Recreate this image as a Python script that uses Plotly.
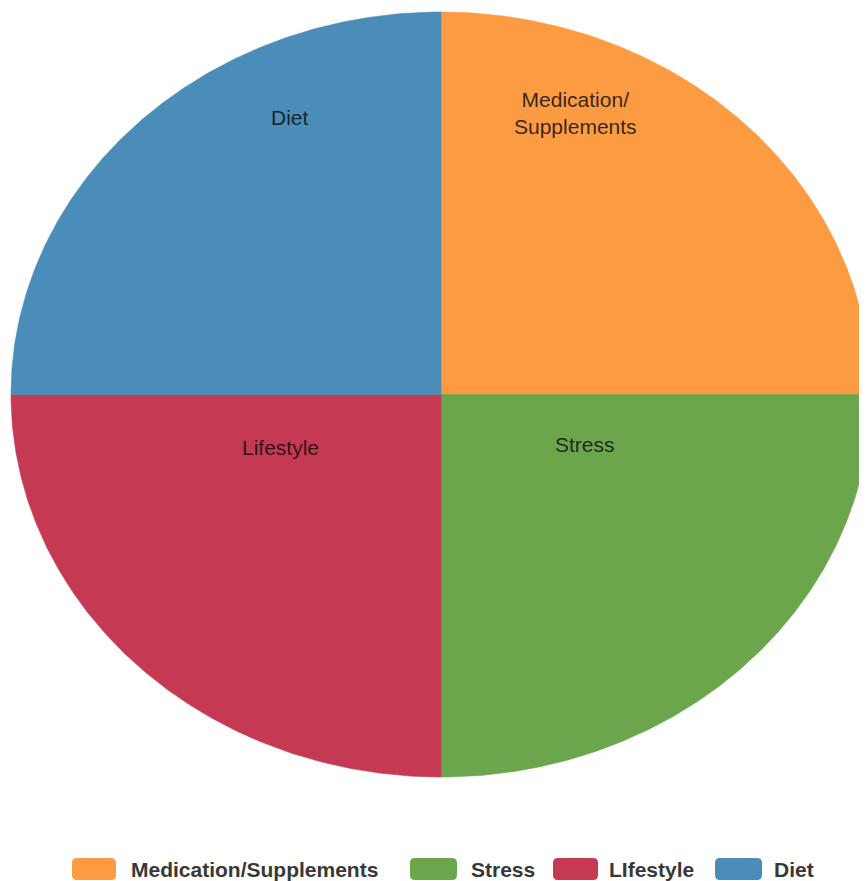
import numpy as np
import plotly.graph_objects as go

# ---- data ----
categories = ["Medication/Supplements", "Stress", "Lifestyle", "Diet"]
values = [25, 25, 25, 25]
slice_text = ["Medication/<br>Supplements", "Stress", "Lifestyle", "Diet"]
legend_names = ["Medication/Supplements", "Stress", "LIfestyle", "Diet"]

# ---- style ----
colors = ["#FD9B42", "#6BA64C", "#C53952", "#4A8DB8"]
OFF = 8  # page body margin
W, H = 867 - OFF, 881 - OFF
cx_px, cy_px = 441 - OFF, 394.5 - OFF
rx_px, ry_px = 430, 382.5
# label centres (page px)
label_px = [(575, 113), (585, 444), (280, 447), (289.5, 117)]
# legend box x-extents and text start (page px)
legend_box_px = [(72, 116), (410, 457), (553, 598), (715, 762)]
legend_text_px = [129, 469, 607, 772]
legend_y_px = (858, 880)


def dx(px):
    return (px - OFF - cx_px) / rx_px


def dy(py):
    return (cy_px - (py - OFF)) / ry_px


fig = go.Figure()
total = float(sum(values))
start = np.pi / 2  # 12 o'clock, clockwise
for name, v, c in zip(categories, values, colors):
    span = 2 * np.pi * v / total
    t = np.linspace(start, start - span, 240)
    xs = np.concatenate([[0], np.cos(t), [0]])
    ys = np.concatenate([[0], np.sin(t), [0]])
    fig.add_trace(go.Scatter(
        x=xs, y=ys, mode="lines", fill="toself", fillcolor=c,
        line=dict(color=c, width=0.6), name=name, hoverinfo="name",
        showlegend=False,
    ))
    start -= span

for txt, (lx, ly) in zip(slice_text, label_px):
    fig.add_annotation(x=dx(lx), y=dy(ly), xref="x", yref="y", text=txt, showarrow=False,
                       font=dict(family="Liberation Sans, Arial", size=21, color="rgba(15,15,15,0.85)"),
                       align="center")


def rounded_rect(x0p, x1p, y0p, y1p, r=5):
    ax0, ax1 = dx(x0p), dx(x1p)
    ay0, ay1 = dy(y1p), dy(y0p)  # bottom, top in data
    rx = r / rx_px
    ry = r / ry_px
    return (f"M {ax0+rx},{ay0} L {ax1-rx},{ay0} Q {ax1},{ay0} {ax1},{ay0+ry} "
            f"L {ax1},{ay1-ry} Q {ax1},{ay1} {ax1-rx},{ay1} "
            f"L {ax0+rx},{ay1} Q {ax0},{ay1} {ax0},{ay1-ry} "
            f"L {ax0},{ay0+ry} Q {ax0},{ay0} {ax0+rx},{ay0} Z")


ymid = (legend_y_px[0] + legend_y_px[1]) / 2
for lname, c, (bx0, bx1), tx in zip(legend_names, colors, legend_box_px, legend_text_px):
    fig.add_shape(type="path", xref="x", yref="y",
                  path=rounded_rect(bx0, bx1, legend_y_px[0], legend_y_px[1]),
                  fillcolor=c, line=dict(width=0))
    fig.add_annotation(x=dx(tx), y=dy(ymid), xref="x", yref="y", text=f"<b>{lname}</b>",
                       showarrow=False, xanchor="left", yanchor="middle",
                       font=dict(family="Liberation Sans, Arial", size=21, color="#383838"))

fig.update_layout(
    width=W, height=H, autosize=False,
    margin=dict(l=0, r=0, t=0, b=0),
    paper_bgcolor="white", plot_bgcolor="white",
    xaxis=dict(range=[dx(OFF), dx(OFF + W)], visible=False, fixedrange=True),
    yaxis=dict(range=[dy(OFF + H), dy(OFF)], visible=False, fixedrange=True),
    showlegend=False,
)
fig.write_html("out.html")
